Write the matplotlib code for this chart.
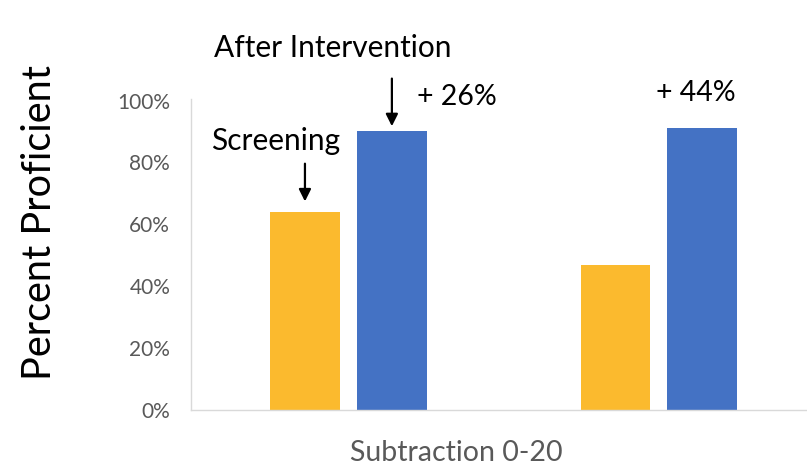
import matplotlib
matplotlib.use("Agg")
import matplotlib.pyplot as plt
import numpy as np

# Data
category_label = "Subtraction 0-20"
groups = [0, 1]
screening = [64, 47]
after_intervention = [90, 91]
gains = ["+ 26%", "+ 44%"]
y_ticks = [0, 20, 40, 60, 80, 100]
y_tick_labels = ["0%", "20%", "40%", "60%", "80%", "100%"]

YELLOW = "#FBBA2E"
BLUE = "#4472C4"
GRAY = "#595959"
FONT = "Lato"

plt.rcParams["font.family"] = [FONT, "DejaVu Sans"]

fig = plt.figure(figsize=(8.07, 4.66), dpi=100)
W, H = 807, 466
ax = fig.add_axes([191 / W, (H - 410) / H, (807 - 191) / W, (410 - 99) / H])

width = 0.225
offset = 0.14
x = np.array(groups, dtype=float)
ax.bar(x - offset, screening, width=width, color=YELLOW)
ax.bar(x + offset, after_intervention, width=width, color=BLUE)

ax.set_xlim(-0.507, 1.477)
ax.set_ylim(0, 100.5)
ax.set_yticks(y_ticks)
ax.set_yticklabels(y_tick_labels)
ax.tick_params(axis="y", length=0, pad=15, labelsize=15, labelcolor=GRAY)
ax.set_xticks([])

for side in ("top", "right"):
    ax.spines[side].set_visible(False)
ax.spines["left"].set_color("#D9D9D9")
ax.spines["bottom"].set_color("#D9D9D9")
ax.spines["left"].set_linewidth(1.0)
ax.spines["bottom"].set_linewidth(1.0)

# Category label under the axis
ax.text(0.349, -13.8, category_label, ha="center", va="center",
        fontsize=20.5, color=GRAY, clip_on=False)

# Y axis title
fig.text(40 / W, 1 - 223 / H, "Percent Proficient", rotation=90,
         ha="center", va="center", fontsize=28.5, color="black")

# Arrow annotations
arrow_kw = dict(arrowstyle="-|>", color="black", lw=1.6, mutation_scale=18)
ax.annotate("", xy=(x[0] + offset, after_intervention[0] + 0.8),
            xytext=(x[0] + offset, 108), arrowprops=arrow_kw,
            annotation_clip=False)
ax.annotate("", xy=(x[0] - offset, screening[0] + 2.5),
            xytext=(x[0] - offset, 80.5), arrowprops=arrow_kw,
            annotation_clip=False)

ax.text(-0.05, 117, "After Intervention", ha="center", va="center",
        fontsize=21.5, color="black", clip_on=False)
ax.text(-0.234, 87, "Screening", ha="center", va="center",
        fontsize=21.5, color="black", clip_on=False)
ax.text(0.22, 101, gains[0], ha="left", va="center",
        fontsize=20.5, color="black", clip_on=False)
ax.text(1.12, 102.5, gains[1], ha="center", va="center",
        fontsize=20.5, color="black", clip_on=False)

fig.savefig("out.png", dpi=100)
